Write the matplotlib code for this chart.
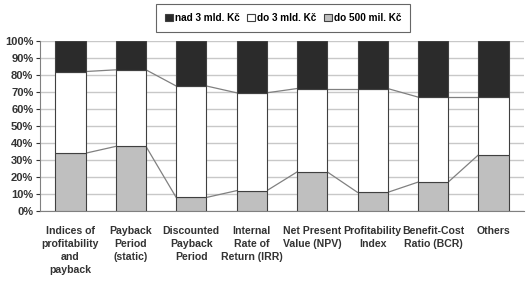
import matplotlib
matplotlib.use("Agg")
import matplotlib.pyplot as plt
import numpy as np
from matplotlib.ticker import PercentFormatter

plt.rcParams['font.family'] = ['Liberation Sans', 'DejaVu Sans']

categories = ["Indices of\nprofitability\nand\npayback", "Payback\nPeriod\n(static)",
              "Discounted\nPayback\nPeriod", "Internal\nRate of\nReturn (IRR)",
              "Net Present\nValue (NPV)", "Profitability\nIndex",
              "Benefit-Cost\nRatio (BCR)", "Others"]
do_500_mil = [34, 38, 8, 12, 23, 11, 17, 33]
do_3_mld = [48, 45, 65.5, 57.5, 49, 61, 50, 34]
nad_3_mld = [18, 17, 26.5, 30.5, 28, 28, 33, 33]

x = np.arange(len(categories))
w = 0.5

fig, ax = plt.subplots(figsize=(5.29, 2.86), dpi=100)
fig.subplots_adjust(left=0.076, right=0.99, bottom=0.262, top=0.857)

edge = '#404040'
b1 = ax.bar(x, do_500_mil, w, color='#bfbfbf', edgecolor=edge, linewidth=0.8, zorder=3, label='do 500 mil. Kč')
b2 = ax.bar(x, do_3_mld, w, bottom=do_500_mil, color='white', edgecolor=edge, linewidth=0.8, zorder=3, label='do 3 mld. Kč')
bottom2 = np.array(do_500_mil) + np.array(do_3_mld)
b3 = ax.bar(x, nad_3_mld, w, bottom=bottom2, color='#2b2b2b', edgecolor=edge, linewidth=0.8, zorder=3, label='nad 3 mld. Kč')

# series lines between bars
for tops in [np.array(do_500_mil), bottom2]:
    for i in range(len(x) - 1):
        ax.plot([x[i] + w / 2, x[i + 1] - w / 2], [tops[i], tops[i + 1]],
                color='#808080', linewidth=0.9, zorder=2)

ax.set_xlim(-0.5, len(x) - 0.5)
ax.set_ylim(0, 100)
ax.set_yticks(np.arange(0, 101, 10))
ax.yaxis.set_major_formatter(PercentFormatter(decimals=0))
ax.grid(axis='y', color='#c8c8c8', linewidth=1.0, zorder=0)
ax.set_xticks(x)
ax.set_xticklabels(categories, fontsize=7.6, fontweight='bold', color='#333333', linespacing=1.35)
ax.tick_params(axis='x', length=0, pad=11)
ax.tick_params(axis='y', length=3, labelsize=8, colors='#333333', pad=2)
for t in ax.get_yticklabels():
    t.set_fontweight('bold')
for s in ['top', 'right']:
    ax.spines[s].set_visible(False)
ax.spines['left'].set_color('#808080')
ax.spines['bottom'].set_color('#808080')

leg = fig.legend(handles=[b3, b2, b1], loc='upper center', bbox_to_anchor=(0.535, 1.004), ncol=3,
                 frameon=True, fancybox=False, edgecolor='#404040',
                 prop={'weight': 'bold', 'size': 7.2}, handlelength=0.8, handleheight=0.8,
                 handletextpad=0.25, columnspacing=0.7, borderpad=0.9)
leg.get_frame().set_linewidth(0.8)

fig.savefig("out.png", dpi=100)
